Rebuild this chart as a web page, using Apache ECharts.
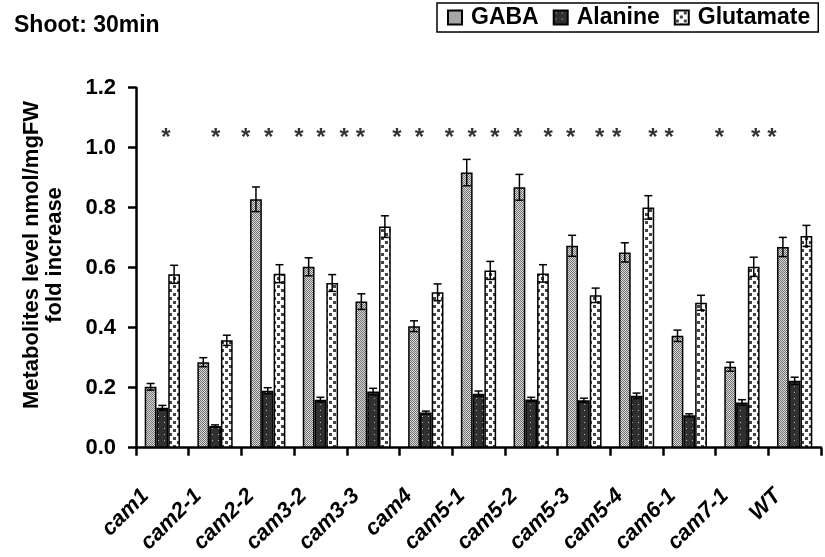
<!DOCTYPE html>
<html>
<head>
<meta charset="utf-8">
<script src="https://cdn.jsdelivr.net/npm/echarts@6/dist/echarts.min.js"></script>
<style>
html,body{margin:0;padding:0;background:#fff;}
#chart{width:825px;height:557px;}
</style>
</head>
<body>
<div id="chart"></div>
<script>
var categories = ['cam1','cam2-1','cam2-2','cam3-2','cam3-3','cam4','cam5-1','cam5-2','cam5-3','cam5-4','cam6-1','cam7-1','WT'];
var gaba = [0.203,0.285,0.828,0.603,0.487,0.405,0.917,0.868,0.673,0.651,0.373,0.270,0.669];
var gabaErr = [0.011,0.015,0.041,0.030,0.026,0.018,0.044,0.043,0.035,0.032,0.019,0.015,0.032];
var alanine = [0.133,0.072,0.190,0.160,0.187,0.117,0.180,0.161,0.158,0.173,0.108,0.151,0.223];
var alanineErr = [0.008,0.004,0.010,0.008,0.011,0.005,0.009,0.007,0.007,0.009,0.005,0.009,0.012];
var glutamate = [0.578,0.358,0.580,0.549,0.737,0.518,0.591,0.581,0.508,0.801,0.483,0.603,0.706];
var glutamateErr = [0.030,0.017,0.030,0.028,0.036,0.028,0.030,0.029,0.024,0.039,0.025,0.032,0.035];
// asterisk positions along the category axis (in category units from the left edge)
var starPos = [0.57,1.51,2.08,2.52,3.09,3.51,3.95,4.26,4.95,5.38,5.95,6.38,6.81,7.25,7.82,8.25,8.80,9.12,9.81,10.12,11.07,11.76,12.07];
var starY = 1.03;
var yTicks = [0,0.2,0.4,0.6,0.8,1.0,1.2];

var FONT = '"Liberation Sans", Arial, sans-serif';

function makePattern(w, h, draw){
  var c = document.createElement('canvas');
  c.width = w; c.height = h;
  var ctx = c.getContext('2d');
  draw(ctx);
  return {image: c, repeat: 'repeat'};
}
var gabaPat = makePattern(2, 2, function(ctx){
  ctx.fillStyle = '#dcdcdc'; ctx.fillRect(0,0,2,2);
  ctx.fillStyle = '#707070'; ctx.fillRect(0,0,1,1); ctx.fillRect(1,1,1,1);
});
var alaPat = makePattern(6, 6, function(ctx){
  ctx.fillStyle = '#303030'; ctx.fillRect(0,0,6,6);
  ctx.fillStyle = '#b8b8b8'; ctx.fillRect(2,2,1,1);
});
var gluPat = makePattern(8, 8, function(ctx){
  ctx.fillStyle = '#ffffff'; ctx.fillRect(0,0,8,8);
  ctx.fillStyle = '#444'; ctx.fillRect(1,1,3,3); ctx.fillRect(5,5,3,3);
});

var GAP = 0.33;
function errRender(offset){
  return function(params, api){
    var idx = api.value(0), v = api.value(1), e = api.value(2);
    var band = api.size([1,0])[0];
    var bw = band*(1-GAP)/3;
    var x = api.coord([idx, v])[0] + offset*bw;
    var top = api.coord([idx, v+e])[1];
    var bot = api.coord([idx, v-e])[1];
    var hw = 4;
    var st = {stroke:'#000', lineWidth:1.5};
    return {type:'group', children:[
      {type:'line', shape:{x1:x,y1:top,x2:x,y2:bot}, style:st},
      {type:'line', shape:{x1:x-hw,y1:top,x2:x+hw,y2:top}, style:st},
      {type:'line', shape:{x1:x-hw,y1:bot,x2:x+hw,y2:bot}, style:st}
    ]};
  };
}
function errData(vals, errs){ return categories.map(function(c,i){ return [i, vals[i], errs[i]]; }); }

var chart = echarts.init(document.getElementById('chart'), null, {renderer:'canvas'});
var barStyle = function(pat){ return {color: pat, borderColor:'#000', borderWidth:1.5}; };
chart.setOption({
  animation:false,
  backgroundColor:'#fff',
  title:{text:'Shoot: 30min', left:14, top:14, padding:0,
    textStyle:{fontFamily:FONT, fontSize:23, fontWeight:'bold', color:'#000'}},
  legend:{data:['GABA','Alanine','Glutamate'], left:437, top:3, orient:'horizontal',
    borderColor:'#000', borderWidth:1.5, padding:[3,8,3,10], itemGap:14,
    itemWidth:14, itemHeight:14, icon:'rect',
    textStyle:{fontFamily:FONT, fontSize:23, fontWeight:'bold', color:'#000', padding:[0,0,0,4]}},
  grid:{left:136, right:4, top:87.7, bottom:109.3, containLabel:false},
  xAxis:[{
    type:'category', data:categories, boundaryGap:true,
    axisLine:{lineStyle:{color:'#000', width:2.5}},
    axisTick:{show:true, length:8, lineStyle:{color:'#000', width:2.5}},
    axisLabel:{rotate:45, interval:0, margin:28, padding:[0,24,0,0],
      fontFamily:FONT, fontSize:22, fontWeight:'bold', fontStyle:'italic', color:'#000'},
    splitLine:{show:false}
  },{
    type:'value', min:0, max:13, show:false
  }],
  yAxis:{type:'value', min:0, max:1.2, interval:0.2,
    axisLine:{show:true, lineStyle:{color:'#000', width:2.5}},
    axisTick:{show:true, length:8, lineStyle:{color:'#000', width:2.5}},
    axisLabel:{margin:20, fontFamily:FONT, fontSize:22, fontWeight:'bold', color:'#000',
      formatter:function(v){ return v.toFixed(1); }},
    splitLine:{show:false}
  },
  graphic:[{type:'text', x:43, y:255, rotation:Math.PI/2,
    style:{text:'Metabolites level nmol/mgFW\nfold increase', textAlign:'center', textVerticalAlign:'middle',
      font:'bold 22px '+FONT, fill:'#000', lineHeight:23}}],
  series:[
    {name:'GABA', type:'bar', data:gaba, barCategoryGap:'33%', barGap:'0%', itemStyle:barStyle(gabaPat)},
    {name:'Alanine', type:'bar', data:alanine, barCategoryGap:'33%', barGap:'0%', itemStyle:barStyle(alaPat)},
    {name:'Glutamate', type:'bar', data:glutamate, barCategoryGap:'33%', barGap:'0%', itemStyle:barStyle(gluPat)},
    {type:'custom', renderItem:errRender(-1), data:errData(gaba,gabaErr), z:5, silent:true},
    {type:'custom', renderItem:errRender(0), data:errData(alanine,alanineErr), z:5, silent:true},
    {type:'custom', renderItem:errRender(1), data:errData(glutamate,glutamateErr), z:5, silent:true},
    {type:'scatter', xAxisIndex:1, data:starPos.map(function(p){return [p, starY];}),
      symbolSize:1, itemStyle:{color:'rgba(0,0,0,0)'}, silent:true,
      label:{show:true, position:'inside', formatter:'*', fontFamily:FONT, fontSize:24, fontWeight:'bold', color:'#000'}}
  ]
});
</script>
</body>
</html>
